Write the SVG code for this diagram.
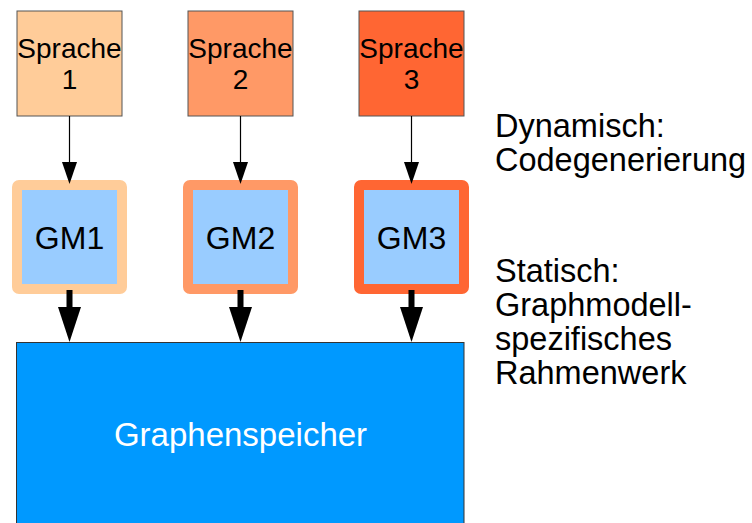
<svg xmlns="http://www.w3.org/2000/svg" width="752" height="523" viewBox="0 0 752 523">
  <style>
    .lang { stroke: #555555; stroke-width: 1; }
    .lbl { font-family: "Liberation Sans", Arial, sans-serif; fill: #000000; }
    .gm-inner { fill: #99ccff; }
    .thin { stroke: #000000; stroke-width: 1.2; fill: none; }
    .head { fill: #000000; }
  </style>
  <rect width="752" height="523" fill="#ffffff"/>

  <!-- language sources -->
  <g id="sprache1">
    <rect class="lang" x="17" y="11" width="105" height="105" fill="#ffcc99"/>
    <text class="lbl" font-size="28" text-anchor="middle" x="69.5" y="58">Sprache</text>
    <text class="lbl" font-size="28" text-anchor="middle" x="69.5" y="89">1</text>
  </g>
  <g id="sprache2">
    <rect class="lang" x="188" y="11" width="105" height="105" fill="#ff9966"/>
    <text class="lbl" font-size="28" text-anchor="middle" x="240.5" y="58">Sprache</text>
    <text class="lbl" font-size="28" text-anchor="middle" x="240.5" y="89">2</text>
  </g>
  <g id="sprache3">
    <rect class="lang" x="359" y="11" width="105" height="105" fill="#ff6633"/>
    <text class="lbl" font-size="28" text-anchor="middle" x="411.5" y="58">Sprache</text>
    <text class="lbl" font-size="28" text-anchor="middle" x="411.5" y="89">3</text>
  </g>

  <!-- graph models -->
  <g id="gm1">
    <rect x="17" y="185" width="105" height="104" rx="2" fill="none" stroke="#ffcc99" stroke-width="10" stroke-linejoin="round"/>
    <rect class="gm-inner" x="22" y="190" width="95" height="94"/>
    <text class="lbl" font-size="32" text-anchor="middle" x="69.5" y="249">GM1</text>
  </g>
  <g id="gm2">
    <rect x="188" y="185" width="105" height="104" rx="2" fill="none" stroke="#ff9966" stroke-width="10" stroke-linejoin="round"/>
    <rect class="gm-inner" x="193" y="190" width="95" height="94"/>
    <text class="lbl" font-size="32" text-anchor="middle" x="240.5" y="249">GM2</text>
  </g>
  <g id="gm3">
    <rect x="359" y="185" width="105" height="104" rx="2" fill="none" stroke="#ff6633" stroke-width="10" stroke-linejoin="round"/>
    <rect class="gm-inner" x="364" y="190" width="95" height="94"/>
    <text class="lbl" font-size="32" text-anchor="middle" x="411.5" y="249">GM3</text>
  </g>

  <!-- graph store -->
  <g id="graphenspeicher">
    <rect x="16.5" y="342.5" width="447.5" height="190" fill="#0099ff" stroke="#333333" stroke-width="1"/>
    <text font-family="'Liberation Sans', Arial, sans-serif" font-size="33" fill="#ffffff" text-anchor="middle" x="240.5" y="446">Graphenspeicher</text>
  </g>

  <!-- connectors -->
  <g id="connectors">
    <line class="thin" x1="69.5" y1="116" x2="69.5" y2="165"/>
    <polygon class="head" points="62,162 77,162 69.5,184"/>
    <line class="thin" x1="240.5" y1="116" x2="240.5" y2="165"/>
    <polygon class="head" points="233,162 248,162 240.5,184"/>
    <line class="thin" x1="411.5" y1="116" x2="411.5" y2="165"/>
    <polygon class="head" points="404,162 419,162 411.5,184"/>

    <rect class="head" x="66.5" y="290" width="6" height="19"/>
    <polygon class="head" points="58,307 81,307 69.5,342"/>
    <rect class="head" x="237.5" y="290" width="6" height="19"/>
    <polygon class="head" points="229,307 252,307 240.5,342"/>
    <rect class="head" x="408.5" y="290" width="6" height="19"/>
    <polygon class="head" points="400,307 423,307 411.5,342"/>
  </g>

  <!-- side notes -->
  <g id="note-dynamisch">
    <text class="lbl" font-size="32.5" x="495" y="137">Dynamisch:</text>
    <text class="lbl" font-size="32.5" x="495" y="171">Codegenerierung</text>
  </g>
  <g id="note-statisch">
    <text class="lbl" font-size="32.5" x="495" y="282">Statisch:</text>
    <text class="lbl" font-size="32.5" x="495" y="316">Graphmodell-</text>
    <text class="lbl" font-size="32.5" x="495" y="350">spezifisches</text>
    <text class="lbl" font-size="32.5" x="495" y="384">Rahmenwerk</text>
  </g>
</svg>
